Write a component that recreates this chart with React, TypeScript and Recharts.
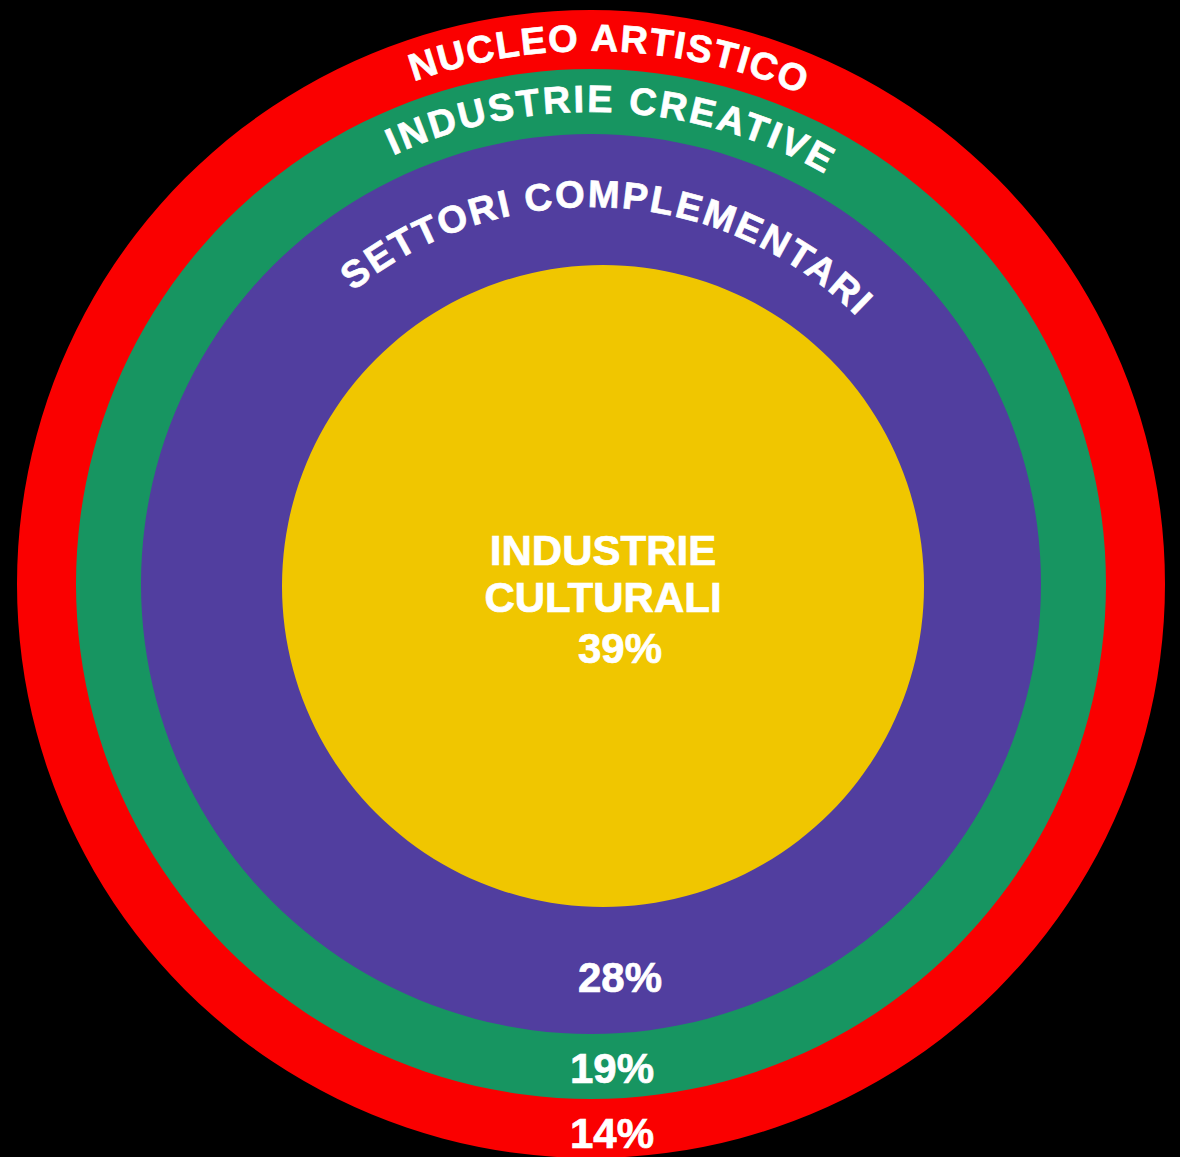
import { PieChart, Pie, Cell } from 'recharts'

const sectors = ['NUCLEO ARTISTICO', 'INDUSTRIE CREATIVE', 'SETTORI COMPLEMENTARI', 'INDUSTRIE CULTURALI']
const shares = [14, 19, 28, 39]

const COLORS = ['#fa0000', '#179561', '#513e9f', '#f0c600']
const FONT = '"Liberation Sans", Arial, Helvetica, sans-serif'

// one disk per sector, outermost first; arc = curved title, pct = share label baseline
const RINGS = [
  { cx: 591, cy: 584, r: 574, arcR: 533, arcMid: 2, ls: 1.5, pctDx: 21, pctDy: 564 },
  { cx: 591, cy: 584, r: 515, arcR: 472, arcMid: 2.6, ls: 2.6, pctDx: 21, pctDy: 499 },
  { cx: 591, cy: 584, r: 450, arcR: 377, arcMid: 3, ls: 2.2, pctDx: 29, pctDy: 408 },
  { cx: 603, cy: 586, r: 321, arcR: 0, arcMid: 0, ls: 0, pctDx: 17, pctDy: 77 },
]

const rad = (d: number) => (d * Math.PI) / 180

const textStyle = {
  fill: '#fff',
  stroke: '#fff',
  strokeWidth: 0.7,
  fontFamily: FONT,
  fontWeight: 700,
}

function renderLabel(props: any, i: number) {
  const { cx, cy, name, value } = props
  const L = RINGS[i]
  const pct = (
    <text x={cx + L.pctDx} y={cy + L.pctDy} textAnchor="middle" fontSize={42} {...textStyle}>
      {value}%
    </text>
  )

  if (!L.arcR) {
    // centre disk: straight two-line title
    const lines = String(name).split(' ')
    return (
      <g>
        {lines.map((t, k) => (
          <text key={t} x={cx} y={cy - 21 + k * 47} textAnchor="middle" fontSize={42} {...textStyle}>
            {t}
          </text>
        ))}
        {pct}
      </g>
    )
  }

  const a1 = rad(L.arcMid - 89)
  const a2 = rad(L.arcMid + 89)
  const x1 = cx + L.arcR * Math.sin(a1)
  const y1 = cy - L.arcR * Math.cos(a1)
  const x2 = cx + L.arcR * Math.sin(a2)
  const y2 = cy - L.arcR * Math.cos(a2)
  const id = `ring-arc-${i}`
  return (
    <g>
      <defs>
        <path id={id} d={`M${x1},${y1} A${L.arcR},${L.arcR} 0 0 1 ${x2},${y2}`} />
      </defs>
      <text fontSize={38} letterSpacing={L.ls} textAnchor="middle" {...textStyle}>
        <textPath href={`#${id}`} startOffset="50%">
          {name}
        </textPath>
      </text>
      {pct}
    </g>
  )
}

export default function App() {
  return (
    <div style={{ width: 1180, height: 1157, background: '#000' }}>
      <style>{'body{margin:0;background:#000}'}</style>
      <PieChart width={1180} height={1157} margin={{ top: 0, right: 0, bottom: 0, left: 0 }}>
        {sectors.map((s, i) => (
          <Pie
            key={s}
            data={[{ name: s, value: shares[i] }]}
            dataKey="value"
            nameKey="name"
            cx={RINGS[i].cx}
            cy={RINGS[i].cy}
            innerRadius={0}
            outerRadius={RINGS[i].r}
            startAngle={90}
            endAngle={-270}
            stroke="none"
            label={(p: any) => renderLabel(p, i)}
            labelLine={false}
            isAnimationActive={false}
          >
            <Cell fill={COLORS[i]} />
          </Pie>
        ))}
      </PieChart>
    </div>
  )
}
